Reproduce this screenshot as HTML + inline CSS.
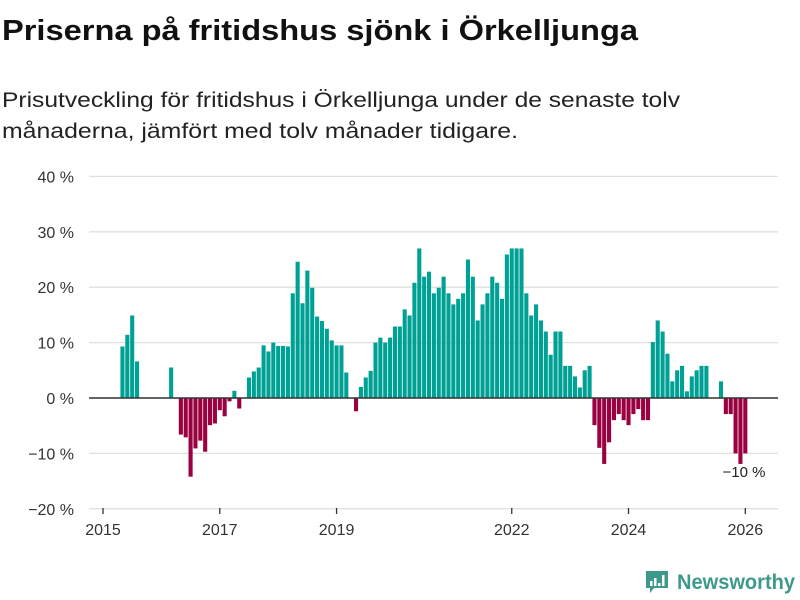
<!DOCTYPE html>
<html><head><meta charset="utf-8"><style>
html,body{margin:0;padding:0;background:#fff;}
svg{display:block;font-family:"Liberation Sans","DejaVu Sans",sans-serif;}
</style></head><body>
<svg id="chart" width="800" height="600" viewBox="0 0 800 600" xmlns="http://www.w3.org/2000/svg">
<text x="2" y="40" font-size="29" font-weight="bold" fill="#111" textLength="636" lengthAdjust="spacingAndGlyphs">Priserna på fritidshus sjönk i Örkelljunga</text>
<text x="2" y="107" font-size="21" fill="#222" textLength="678" lengthAdjust="spacingAndGlyphs">Prisutveckling för fritidshus i Örkelljunga under de senaste tolv</text>
<text x="2" y="138" font-size="21" fill="#222" textLength="516" lengthAdjust="spacingAndGlyphs">månaderna, jämfört med tolv månader tidigare.</text>
<g id="grid"></g>
<g id="bars"></g>
<g id="xaxis"></g>
<text x="744" y="477" font-size="15" fill="#222" text-anchor="middle">−10 %</text>
<g>
<path d="M646 571 h22 v17 h-14 l-4 5 v-5 h-4 z" fill="#3d9a8b"/>
<rect x="650" y="581" width="2.5" height="5" fill="#fff"/>
<rect x="654" y="578" width="2.5" height="8" fill="#fff"/>
<rect x="658" y="583" width="2.5" height="3" fill="#fff"/>
<rect x="662" y="575" width="2.5" height="11" fill="#fff"/>
<text x="677" y="589" font-size="21" font-weight="bold" fill="#3d9a8b" textLength="118" lengthAdjust="spacingAndGlyphs">Newsworthy</text>
</g>
</svg>
<script>
const startMonth = 4; // months since Jan 2015 of first value (May 2015)
const values = [9.3,11.4,14.9,6.6,null,null,null,null,null,null,5.5,null,
-6.6,-7.1,-14.2,-9.1,-7.7,-9.7,-4.9,-4.6,-2.2,-3.3,-0.6,1.3,-1.9,null,
3.7,4.8,5.5,9.5,8.4,10.0,9.4,9.4,9.3,18.9,24.6,17.1,23.0,19.9,14.7,13.9,12.5,10.4,9.5,9.5,4.6,null,-2.4,
2.0,3.7,4.9,10.0,10.9,10.0,10.9,12.9,12.9,16.0,14.9,20.8,27.0,21.9,22.8,18.9,19.9,21.9,18.9,16.9,17.9,18.9,25.0,21.9,14.0,16.9,18.9,21.9,20.8,17.9,25.9,27.0,27.0,27.0,18.9,14.9,16.9,14.0,12.0,7.8,12.0,12.0,5.8,5.8,3.9,1.9,
5.0,5.8,
-4.9,-9.0,-11.9,-8.0,-4.0,-2.9,-4.0,-4.9,-2.9,-2.0,-4.0,-4.0,
10.1,14.0,12.0,8.0,3.0,5.0,5.8,1.2,3.9,5.0,5.8,5.8,
null,null,3.0,-2.9,-2.9,-10.0,-11.9,-10.0];
const yTicks = [40,30,20,10,0,-10,-20];
const yTickLabels = ["40 %","30 %","20 %","10 %","0 %","−10 %","−20 %"];
const xTickYears = [2015,2017,2019,2022,2024,2026];

const NS="http://www.w3.org/2000/svg";
function y(v){return 398 - v*5.54;}
function x(m){return 103 + m*4.866;}
const grid=document.getElementById('grid');
yTicks.forEach((t,i)=>{
  const l=document.createElementNS(NS,'line');
  
  
  l.setAttribute('x1',89);l.setAttribute('x2',778);
  l.setAttribute('y1',y(t));l.setAttribute('y2',y(t));
  l.setAttribute('stroke','#e0e0e0');l.setAttribute('stroke-width',1.3);
  grid.appendChild(l);
  const tx=document.createElementNS(NS,'text');
  
  
  tx.setAttribute('x',74);tx.setAttribute('y',y(t)+6);
  tx.setAttribute('text-anchor','end');tx.setAttribute('font-size','16');tx.setAttribute('fill','#333');
  tx.textContent=yTickLabels[i];
  grid.appendChild(tx);
});
const bars=document.getElementById('bars');
values.forEach((v,i)=>{
  if(v===null)return;
  const r=document.createElementNS(NS,'rect');
  
  
  const cx=x(startMonth+i);
  r.setAttribute('x',cx-2.05);r.setAttribute('width',4.1);
  r.setAttribute('y',Math.min(y(v),y(0)));r.setAttribute('height',Math.abs(y(v)-y(0)));
  r.setAttribute('fill',v>=0?'#00a195':'#9b0040');
  bars.appendChild(r);
});
const zl=document.createElementNS(NS,'line');


zl.setAttribute('x1',89);zl.setAttribute('x2',778);zl.setAttribute('y1',y(0));zl.setAttribute('y2',y(0));
zl.setAttribute('stroke','#333');zl.setAttribute('stroke-width',1.5);
bars.appendChild(zl);
const xa=document.getElementById('xaxis');
xTickYears.forEach(yr=>{
  const m=(yr-2015)*12;
  const t=document.createElementNS(NS,'line');
  
  
  t.setAttribute('x1',x(m));t.setAttribute('x2',x(m));t.setAttribute('y1',508);t.setAttribute('y2',514);
  t.setAttribute('stroke','#333');t.setAttribute('stroke-width',1.3);
  xa.appendChild(t);
  const tx=document.createElementNS(NS,'text');
  
  
  tx.setAttribute('x',x(m));tx.setAttribute('y',535);
  tx.setAttribute('text-anchor','middle');tx.setAttribute('font-size','16');tx.setAttribute('fill','#333');
  tx.textContent=yr;
  xa.appendChild(tx);
});
</script>
</body></html>
